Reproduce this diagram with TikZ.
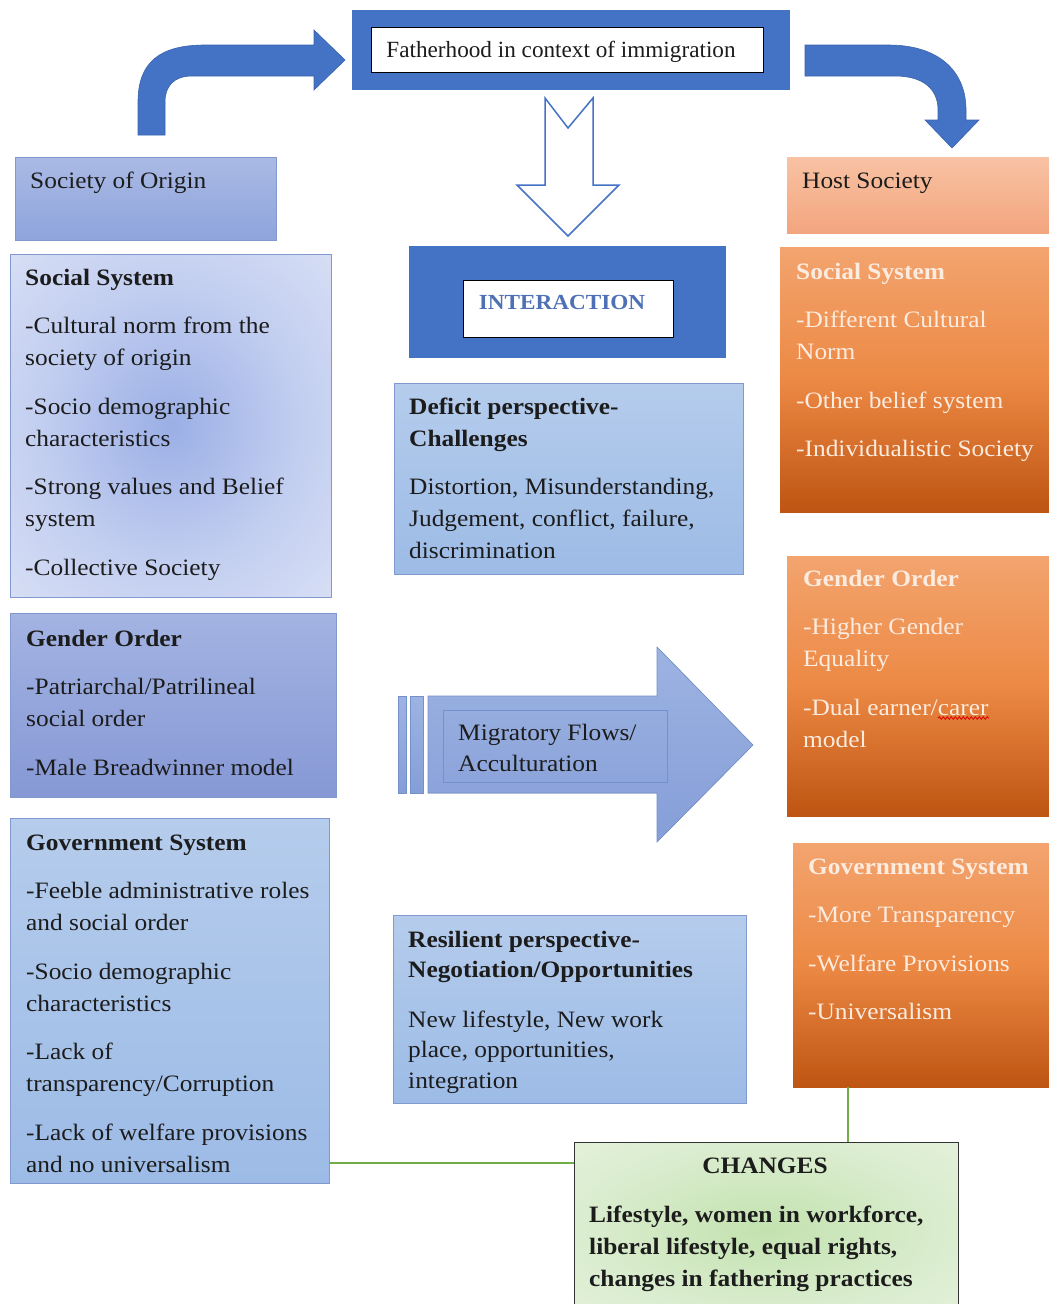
\documentclass[tikz,border=0pt]{standalone}
\usepackage{fontspec}
\setmainfont{Liberation Serif}[FakeStretch=1.08]
\newfontfamily\plainserif{Liberation Serif}
\usetikzlibrary{decorations.pathmorphing}
\definecolor{officeblue}{HTML}{4472C4}
\definecolor{officedark}{HTML}{3A63AE}
\definecolor{ink}{HTML}{1C1C1C}
\definecolor{edgeblue}{HTML}{8199CF}
\definecolor{sooA}{HTML}{AABAE5}
\definecolor{sooB}{HTML}{8EA4DB}
\definecolor{hostA}{HTML}{F8C2A4}
\definecolor{hostB}{HTML}{F3A57E}
\definecolor{lgA}{HTML}{A3B3E2}
\definecolor{lgB}{HTML}{8698D5}
\definecolor{gvA}{HTML}{B5CCEC}
\definecolor{gvB}{HTML}{9CBBE6}
\definecolor{orA}{HTML}{F3A46F}
\definecolor{orB}{HTML}{EC8944}
\definecolor{orC}{HTML}{BE5512}
\definecolor{paletext}{HTML}{FCEBDF}
\definecolor{linkgreen}{HTML}{70AD47}
\definecolor{migA}{HTML}{9DB3E2}
\definecolor{migB}{HTML}{859ED7}
\definecolor{migedge}{HTML}{7591CC}
\definecolor{interink}{HTML}{4E71B5}
\definecolor{lsIn}{HTML}{9BAFE6}
\definecolor{lsMid}{HTML}{C2CEF0}
\definecolor{lsOut}{HTML}{E8ECF9}
\definecolor{grIn}{HTML}{C3E2AF}
\definecolor{grMid}{HTML}{D9ECCD}
\definecolor{grOut}{HTML}{EEF6E9}
\pgfdeclareradialshading{bluesoft}{\pgfpointorigin}{color(0bp)=(lsIn); color(20bp)=(lsMid); color(48bp)=(lsOut); color(80bp)=(lsOut)}
\pgfdeclareradialshading{greensoft}{\pgfpointorigin}{color(0bp)=(grIn); color(22bp)=(grMid); color(50bp)=(grOut); color(80bp)=(grOut)}
\newcommand\bodyfont{\fontsize{23.5}{32}\selectfont}
\newcommand\itemgap{\\[16.5pt]}
\begin{document}
\begin{tikzpicture}[x=1pt,y=-1pt,
  panel/.style={anchor=north west, inner sep=0pt, outer sep=0pt, line width=0.8pt},
  bluepanel/.style 2 args={panel, draw=edgeblue, top color=#1, bottom color=#2},
  orangepanel/.style={panel, draw=none, top color=orA, bottom color=orC, middle color=orB},
  body/.style={anchor=north west, inner sep=0pt, align=left, font=\bodyfont, text=ink},
  light/.style={body, text=paletext},
  conn/.style={draw=linkgreen, line width=1.6pt},
  bigarrow/.style={fill=officeblue, draw=officedark, line width=0.6pt},
]
\useasboundingbox (0,0) rectangle (1049,1304);
\clip (0,0) rectangle (1049,1304);
\fill[white] (0,0) rectangle (1049,1304);

% top title
\node[panel, fill=officeblue, minimum width=438, minimum height=80] (titleouter) at (352,10) {};
\node[panel, draw=black, fill=white, minimum width=392, minimum height=45] (titlebox) at (371,27) {};
\node[anchor=base, inner sep=0pt, font=\plainserif\fontsize{23.2}{28}\selectfont, text=ink] (titletext) at (561,57) {Fatherhood in context of immigration};

% bent arrows
\filldraw[bigarrow] (138,135) -- (138,102) .. controls (138,62) and (160,45) .. (205,45)
  -- (314,45) -- (314,30) -- (345,60) -- (314,90) -- (314,76) -- (192,76)
  .. controls (174,76) and (165,86) .. (165,102) -- (165,135) -- cycle;
\filldraw[bigarrow] (805,45) -- (888,45) .. controls (940,45) and (966,72) .. (966,110)
  -- (966,120) -- (979,120) -- (952,148) -- (925,120) -- (938,120) -- (938,110)
  .. controls (938,88) and (922,76) .. (895,76) -- (805,76) -- cycle;

% hollow down arrow
\draw[draw=officeblue, fill=white, line width=1.5pt] (545,98) -- (568,128) -- (593,98) -- (593,185)
  -- (619,185) -- (568,236) -- (517,185) -- (545,185) -- cycle;

% society headers
\node[bluepanel={sooA}{sooB}, minimum width=261, minimum height=83] (soobox) at (15,157) {};
\node[body] (sootext) at (30,165.6) {\strut Society of Origin};
\node[panel, top color=hostA, bottom color=hostB, minimum width=266, minimum height=76] (hostbox) at (787,157) {};
\node[body] (hosttext) at (802,165.6) {\strut Host Society};

% left social system
\node[panel, draw=edgeblue, shading=bluesoft, minimum width=321, minimum height=343] (lsocbox) at (10,254) {};
\node[body] (lsoctext) at (25,262.6) {\strut\textbf{Social System}\itemgap -Cultural norm from the\\society of origin\itemgap -Socio demographic\\characteristics\itemgap -Strong values and Belief\\system\itemgap -Collective Society};

% interaction
\node[panel, fill=officeblue, minimum width=317, minimum height=112] (interouter) at (409,246) {};
\node[panel, draw=black, fill=white, minimum width=210, minimum height=57] (interbox) at (463,280) {};
\node[anchor=base, inner sep=0pt, font=\fontsize{21.5}{26}\selectfont\bfseries, text=interink] (intertext) at (562,309) {INTERACTION};

% deficit
\node[bluepanel={gvA}{gvB}, minimum width=349, minimum height=191] (defbox) at (394,383) {};
\node[body] (deftext) at (409,391.6) {\strut\textbf{Deficit perspective-}\\\textbf{Challenges}\itemgap Distortion, Misunderstanding,\\Judgement, conflict, failure,\\discrimination};

% right social system
\node[orangepanel, minimum width=275, minimum height=265] (rsocbox) at (780,247) {};
\node[light] (rsoctext) at (796,256.6) {\strut\textbf{Social System}\itemgap -Different Cultural\\Norm\itemgap -Other belief system\itemgap -Individualistic Society};

% left gender order
\node[bluepanel={lgA}{lgB}, minimum width=326, minimum height=184] (lgenbox) at (10,613) {};
\node[body] (lgentext) at (26,623.6) {\strut\textbf{Gender Order}\itemgap -Patriarchal/Patrilineal\\social order\itemgap -Male Breadwinner model};

% right gender order
\node[orangepanel, minimum width=268, minimum height=260] (rgenbox) at (787,556) {};
\node[light] (rgentext) at (803,563.6) {\strut\textbf{Gender Order}\itemgap -Higher Gender\\Equality\itemgap -Dual earner/carer\\model};
\draw[red!85!black, line width=0.8pt, decorate, decoration={snake, amplitude=1.3pt, segment length=4pt}] (938,718) -- (989,718);

% migratory arrow
\filldraw[top color=migA, bottom color=migB, draw=migedge, line width=0.6pt] (398,696) rectangle (406,793);
\filldraw[top color=migA, bottom color=migB, draw=migedge, line width=0.6pt] (410,696) rectangle (423,793);
\filldraw[top color=migA, bottom color=migB, draw=migedge, line width=0.6pt] (428,696) -- (657,696) -- (657,647)
  -- (753,745) -- (657,842) -- (657,793) -- (428,793) -- cycle;
\node[panel, draw=migedge, minimum width=224, minimum height=72] (migbox) at (443,710) {};
\node[body, font=\fontsize{23.5}{31}\selectfont] (migtext) at (458,718.6) {\strut Migratory Flows/\\Acculturation};

% left government
\node[bluepanel={gvA}{gvB}, minimum width=319, minimum height=365] (lgovbox) at (10,818) {};
\node[body] (lgovtext) at (26,827.6) {\strut\textbf{Government System}\itemgap -Feeble administrative roles\\and social order\itemgap -Socio demographic\\characteristics\itemgap -Lack of\\transparency/Corruption\itemgap -Lack of welfare provisions\\and no universalism};

% resilient
\node[bluepanel={gvA}{gvB}, minimum width=353, minimum height=188] (resbox) at (393,915) {};
\node[body, font=\fontsize{23.5}{30.5}\selectfont] (restext) at (408,925.6) {\strut\textbf{Resilient perspective-}\\\textbf{Negotiation/Opportunities}\\[19pt]New lifestyle, New work\\place, opportunities,\\integration};

% right government
\node[orangepanel, minimum width=262, minimum height=244] (rgovbox) at (793,843) {};
\node[light] (rgovtext) at (808,851.6) {\strut\textbf{Government System}\itemgap -More Transparency\itemgap -Welfare Provisions\itemgap -Universalism};

% changes
\node[panel, draw=black!80, line width=1pt, shading=greensoft, minimum width=384, minimum height=175] (chbox) at (574,1142) {};
\node[anchor=base, inner sep=0pt, font=\bodyfont\bfseries, text=ink] (chtitle) at (765,1173) {CHANGES};
\node[body, font=\bodyfont\bfseries] (chtext) at (589,1199.6) {\strut Lifestyle, women in workforce,\\liberal lifestyle, equal rights,\\changes in fathering practices};

% connectors
\coordinate (cy) at (0,1163);
\coordinate (cx) at (848,0);
\draw[conn] (lgovbox.east |- cy) -- (chbox.west |- cy);
\draw[conn] (rgovbox.south -| cx) -- (chbox.north -| cx);
\end{tikzpicture}
\end{document}
